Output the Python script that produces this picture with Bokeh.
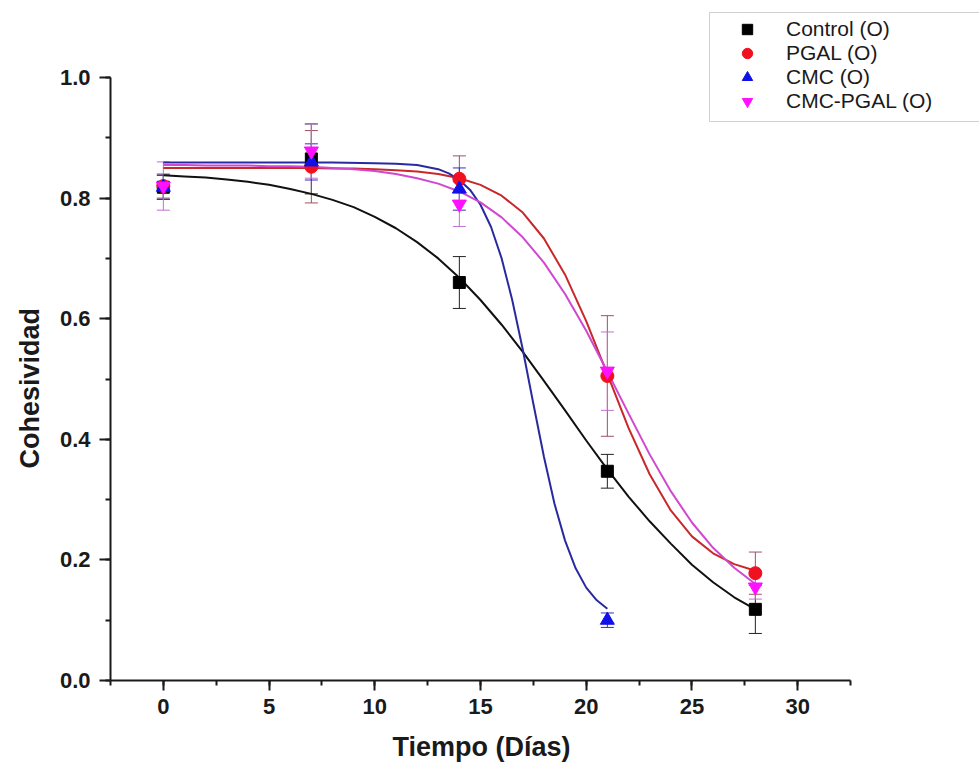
from bokeh.plotting import figure
from bokeh.models import (Range1d, SingleIntervalTicker, NumeralTickFormatter, Legend,
                          LegendItem, Whisker, TeeHead, ColumnDataSource, Title,
                          BoxAnnotation)
from bokeh.embed import file_html
from bokeh.resources import INLINE

# ---- data ----
days = [0, 7, 14, 21, 28]
control_y = [0.818, 0.865, 0.660, 0.347, 0.118]
control_err = [0.02, 0.058, 0.043, 0.028, 0.04]
pgal_y = [0.820, 0.852, 0.832, 0.505, 0.178]
pgal_err = [0.02, 0.06, 0.038, 0.10, 0.035]
cmc_days = [0, 7, 14, 21]
cmc_y = [0.818, 0.860, 0.815, 0.100]
cmc_err = [0.02, 0.03, 0.035, 0.012]
cmcpgal_y = [0.820, 0.878, 0.790, 0.513, 0.155]
cmcpgal_err = [0.04, 0.045, 0.037, 0.065, 0.02]

# fitted curves
fit_days = list(range(0, 29))
control_fit = [0.838, 0.836, 0.834, 0.831, 0.827, 0.822, 0.815, 0.807, 0.797, 0.785,
               0.769, 0.750, 0.727, 0.700, 0.668, 0.631, 0.590, 0.545, 0.497, 0.448,
               0.398, 0.350, 0.305, 0.264, 0.227, 0.192, 0.163, 0.138, 0.118]
pgal_fit = [0.850, 0.850, 0.850, 0.850, 0.850, 0.850, 0.850, 0.850, 0.849, 0.849,
            0.848, 0.846, 0.844, 0.840, 0.833, 0.822, 0.804, 0.776, 0.733, 0.673,
            0.596, 0.508, 0.419, 0.342, 0.282, 0.239, 0.211, 0.193, 0.182]
cmcpgal_fit = [0.855, 0.855, 0.854, 0.854, 0.854, 0.853, 0.853, 0.852, 0.850, 0.848,
               0.845, 0.840, 0.833, 0.824, 0.811, 0.793, 0.768, 0.735, 0.693, 0.641,
               0.580, 0.512, 0.443, 0.375, 0.314, 0.262, 0.220, 0.187, 0.160]
cmc_fit_days = [0, 2, 4, 6, 8, 10, 11, 12, 13, 13.5, 14, 14.5, 15, 15.5, 16, 16.5,
                17, 17.5, 18, 18.5, 19, 19.5, 20, 20.5, 21]
cmc_fit = [0.859, 0.859, 0.859, 0.859, 0.859, 0.858, 0.857, 0.855, 0.848, 0.841,
           0.830, 0.814, 0.789, 0.752, 0.700, 0.631, 0.549, 0.459, 0.371, 0.293,
           0.232, 0.186, 0.154, 0.133, 0.119]

labels = ["Control (O)", "PGAL (O)", "CMC (O)", "CMC-PGAL (O)"]
x_label = "Tiempo (Días)"
y_label = "Cohesividad"

FONT = "Liberation Sans"

# axis extents (the drawn axes) and canvas layout
X_LO, X_HI = -2.5, 32.5
Y_LO, Y_HI = 0.0, 1.0
W, H = 979, 776
LEFT, BOTTOM = 110, 96           # frame left / bottom borders
AX_RIGHT_PX, AX_TOP_PX = 850, 77  # where the axes end on the canvas
FRAME_BOTTOM_PX = H - BOTTOM
px_x = (AX_RIGHT_PX - LEFT) / (X_HI - X_LO)
px_y = (FRAME_BOTTOM_PX - AX_TOP_PX) / (Y_HI - Y_LO)
x_end = X_LO + (W - LEFT) / px_x
y_end = Y_LO + FRAME_BOTTOM_PX / px_y


def sx_to_data(sx):
    return X_LO + (sx - LEFT) / px_x


def sy_to_data(sy):
    return Y_LO + (FRAME_BOTTOM_PX - sy) / px_y


p = figure(width=W, height=H, output_backend="svg", toolbar_location=None,
           x_range=Range1d(X_LO, x_end), y_range=Range1d(Y_LO, y_end),
           min_border_left=LEFT, min_border_right=0, min_border_top=0,
           min_border_bottom=BOTTOM)
p.outline_line_color = None
p.grid.visible = False
p.background_fill_color = "white"
p.border_fill_color = "white"

p.xaxis.ticker = SingleIntervalTicker(interval=5, num_minor_ticks=2)
p.yaxis.ticker = SingleIntervalTicker(interval=0.2, num_minor_ticks=2)
p.yaxis.formatter = NumeralTickFormatter(format="0.0")
p.xaxis.bounds = (X_LO, X_HI)
p.yaxis.bounds = (Y_LO, Y_HI)

for ax in (p.xaxis, p.yaxis):
    ax.axis_line_width = 2
    ax.axis_line_color = "#1a1a1a"
    ax.major_tick_line_width = 2
    ax.minor_tick_line_width = 2
    ax.major_tick_line_color = "#1a1a1a"
    ax.minor_tick_line_color = "#1a1a1a"
    ax.major_tick_in = 0
    ax.minor_tick_out = 5
    ax.minor_tick_in = 0
    ax.major_label_text_font = FONT
    ax.major_label_text_font_style = "bold"
    ax.major_label_text_font_size = "22px"
    ax.major_label_text_color = "#1a1a1a"

p.xaxis.major_tick_out = 10
p.yaxis.major_tick_out = 11
p.xaxis.major_label_standoff = 8
p.yaxis.major_label_standoff = 9

# axis titles as side titles, placed along the drawn axes
xt = Title(text=x_label, align="left", offset=282, standoff=27,
           text_font=FONT, text_font_style="bold", text_font_size="27px",
           text_color="#1a1a1a")
yt = Title(text=y_label, align="left", offset=212, standoff=23,
           text_font=FONT, text_font_style="bold", text_font_size="27px",
           text_color="#1a1a1a")
p.add_layout(xt, "below")
p.add_layout(yt, "left")

# fitted curves
p.line(fit_days, control_fit, line_color="#111111", line_width=2)
p.line(fit_days, pgal_fit, line_color="#c8282a", line_width=2)
p.line(cmc_fit_days, cmc_fit, line_color="#2a2aa0", line_width=2)
p.line(fit_days, cmcpgal_fit, line_color="#d048d0", line_width=2)

# error bars
def add_err(xs, ys, errs, color):
    src = ColumnDataSource(dict(x=xs,
                                lo=[y - e for y, e in zip(ys, errs)],
                                hi=[y + e for y, e in zip(ys, errs)]))
    w = Whisker(base="x", lower="lo", upper="hi", source=src,
                line_color=color, line_width=1,
                upper_head=TeeHead(size=13, line_color=color, line_width=1),
                lower_head=TeeHead(size=13, line_color=color, line_width=1))
    p.add_layout(w)

add_err(days, control_y, control_err, "#222222")
add_err(days, pgal_y, pgal_err, "#a05060")
add_err(cmc_days, cmc_y, cmc_err, "#3030c0")
add_err(days, cmcpgal_y, cmcpgal_err, "#c070d0")

r1 = p.scatter(days, control_y, marker="square", size=12, fill_color="black", line_color="black")
r2 = p.scatter(days, pgal_y, marker="circle", size=13, fill_color="#f01020", line_color="#f01020")
r3 = p.scatter(cmc_days, cmc_y, marker="triangle", size=14, fill_color="#1010e8", line_color="#1010e8")
r4 = p.scatter(days, cmcpgal_y, marker="inverted_triangle", size=14, fill_color="#ff10ff", line_color="#ff10ff")

# legend: a framed box with one row per series
LEG_LEFT, LEG_TOP, LEG_BOTTOM = 709, 12, 121
box = BoxAnnotation(left=sx_to_data(LEG_LEFT), right=x_end + 5,
                    top=sy_to_data(LEG_TOP), bottom=sy_to_data(LEG_BOTTOM),
                    fill_color="white", fill_alpha=1.0,
                    line_color="#666666", line_width=1)
p.add_layout(box)

ROW_CENTERS = [30, 54, 78, 102]
ROW_H = 24
for lab, rend, cy in zip(labels, [r1, r2, r3, r4], ROW_CENTERS):
    lg = Legend(items=[LegendItem(label=lab, renderers=[rend])],
                location=(LEG_LEFT + 8 - LEFT, FRAME_BOTTOM_PX - cy - ROW_H // 2))
    lg.label_text_font = FONT
    lg.label_text_font_size = "21px"
    lg.label_text_color = "#1a1a1a"
    lg.label_height = ROW_H
    lg.glyph_height = 26
    lg.glyph_width = 60
    lg.label_standoff = 9
    lg.spacing = 0
    lg.padding = 0
    lg.margin = 0
    lg.border_line_color = None
    lg.background_fill_alpha = 0.0
    p.add_layout(lg)

open("out.html", "w").write(file_html(p, INLINE))
